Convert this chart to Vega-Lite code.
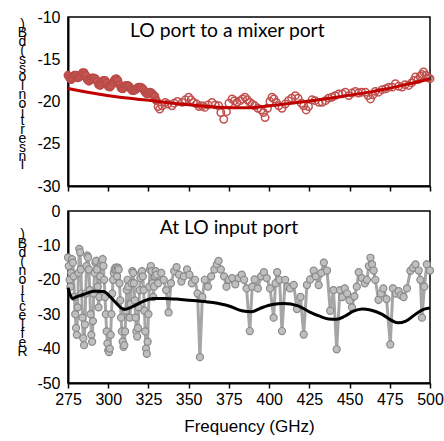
{
  "$schema": "https://vega.github.io/schema/vega-lite/v6.json",
  "padding": {"left": 16, "top": 8, "right": 2, "bottom": 2},
  "spacing": 25,
  "bounds": "flush",
  "config": {
    "view": {"stroke": "black", "strokeWidth": 1.5},
    "axis": {"domainColor": "black", "domainWidth": 2, "labelFont": "Liberation Sans", "labelFontSize": 16, "labelColor": "black", "labelFlush": false, "labelOverlap": false, "grid": false, "tickColor": "black", "tickWidth": 1.5, "titleFont": "Liberation Sans", "titleColor": "black", "titleFontWeight": "normal", "labelExpr": "replace(datum.label, '−', '-')"}
  },
  "datasets": {
    "topDense": [
      {"f":275,"v":-16.9},{"f":276,"v":-17.2},{"f":277,"v":-17.4},{"f":278,"v":-17.2},{"f":279,"v":-16.9},{"f":280,"v":-16.9},{"f":281,"v":-17.2},{"f":282,"v":-17.1},{"f":283,"v":-16.9},{"f":284,"v":-16.6},{"f":285,"v":-16.6},{"f":286,"v":-16.9},{"f":287,"v":-17.4},{"f":288,"v":-17.6},{"f":289,"v":-17.4},{"f":290,"v":-17.2},{"f":291,"v":-17.2},{"f":292,"v":-17.3},{"f":293,"v":-17.6},{"f":294,"v":-18.0},{"f":295,"v":-18.1},{"f":296,"v":-17.8},{"f":297,"v":-17.5},{"f":298,"v":-17.5},{"f":299,"v":-17.8},{"f":300,"v":-18.2},{"f":301,"v":-18.3},{"f":302,"v":-18.1},{"f":303,"v":-17.7},{"f":304,"v":-17.4},{"f":305,"v":-17.3},{"f":306,"v":-17.5},{"f":307,"v":-18.0},{"f":308,"v":-18.4},{"f":309,"v":-18.5},{"f":310,"v":-18.3},{"f":311,"v":-18.1},{"f":312,"v":-18.1},{"f":313,"v":-18.2},{"f":314,"v":-18.5},{"f":315,"v":-18.7},{"f":316,"v":-18.7},{"f":317,"v":-18.6},{"f":318,"v":-18.4},{"f":319,"v":-18.3},{"f":320,"v":-18.3},{"f":321,"v":-18.4},{"f":322,"v":-18.6},{"f":323,"v":-18.9},{"f":324,"v":-19.1},{"f":325,"v":-19.1},{"f":326,"v":-18.9},{"f":327,"v":-19.0},{"f":328,"v":-19.2},{"f":329,"v":-19.4},{"f":330,"v":-19.9}
    ],
    "topSparse": [
      {"f":331,"v":-20.6},{"f":332,"v":-20.9},{"f":333.5,"v":-20.5},{"f":335.4,"v":-20.1},{"f":337,"v":-20.3},{"f":339.6,"v":-20.5},{"f":341,"v":-20.2},{"f":343,"v":-20.0},{"f":346,"v":-20.1},{"f":348,"v":-19.8},{"f":350,"v":-19.5},{"f":351.5,"v":-19.8},{"f":353,"v":-20.1},{"f":355,"v":-20.3},{"f":356.5,"v":-20.6},{"f":358.3,"v":-20.5},{"f":360,"v":-20.7},{"f":362,"v":-20.4},{"f":364.5,"v":-20.1},{"f":366.5,"v":-20.4},{"f":368.7,"v":-20.5},{"f":370,"v":-21.3},{"f":371.8,"v":-22.1},{"f":373.5,"v":-21.2},{"f":375,"v":-20.2},{"f":377,"v":-19.7},{"f":378.5,"v":-19.9},{"f":380,"v":-20.1},{"f":382,"v":-19.9},{"f":383.5,"v":-19.7},{"f":385,"v":-19.5},{"f":386.5,"v":-19.8},{"f":388,"v":-20.1},{"f":389.5,"v":-20.3},{"f":391,"v":-20.5},{"f":393,"v":-20.8},{"f":395,"v":-21.0},{"f":396.5,"v":-21.3},{"f":397.5,"v":-21.9},{"f":399,"v":-20.8},{"f":400.5,"v":-20.0},{"f":401.8,"v":-19.5},{"f":403,"v":-19.7},{"f":404.5,"v":-20.1},{"f":406,"v":-20.5},{"f":408,"v":-20.8},{"f":410,"v":-20.3},{"f":412,"v":-19.9},{"f":414,"v":-19.6},{"f":416.3,"v":-19.3},{"f":418,"v":-19.6},{"f":420,"v":-20.2},{"f":421.5,"v":-20.5},{"f":423,"v":-21.0},{"f":424.5,"v":-20.6},{"f":426.7,"v":-19.8},{"f":428.5,"v":-19.9},{"f":431,"v":-20.1},{"f":433,"v":-20.1},{"f":435,"v":-19.9},{"f":437,"v":-19.6},{"f":439,"v":-19.5},{"f":441,"v":-19.3},{"f":443.3,"v":-19.1},{"f":445.5,"v":-19.1},{"f":447.4,"v":-18.9},{"f":449.5,"v":-19.3},{"f":451.5,"v":-19.0},{"f":453.6,"v":-18.8},{"f":455.5,"v":-19.0},{"f":457.5,"v":-18.9},{"f":459.8,"v":-18.9},{"f":461.5,"v":-19.3},{"f":463,"v":-19.7},{"f":464.5,"v":-19.2},{"f":466,"v":-18.8},{"f":468,"v":-18.9},{"f":470.3,"v":-18.6},{"f":472.5,"v":-18.5},{"f":474.4,"v":-18.3},{"f":476.5,"v":-18.3},{"f":478.5,"v":-17.9},{"f":480.5,"v":-18.2},{"f":482.6,"v":-18.3},{"f":484.5,"v":-18.0},{"f":486.7,"v":-18.1},{"f":488.5,"v":-17.8},{"f":490,"v":-17.5},{"f":491,"v":-17.1},{"f":492.5,"v":-17.4},{"f":494,"v":-17.0},{"f":495,"v":-16.8},{"f":496,"v":-16.5},{"f":497.5,"v":-16.9},{"f":499,"v":-17.2},{"f":500,"v":-17.3}
    ],
    "topLine": [
      {"f":275,"v":-18.45},{"f":290,"v":-19.0},{"f":305,"v":-19.45},{"f":325,"v":-19.85},{"f":345,"v":-20.3},{"f":365,"v":-20.65},{"f":385,"v":-20.75},{"f":405,"v":-20.4},{"f":425,"v":-19.95},{"f":445,"v":-19.4},{"f":465,"v":-18.8},{"f":485,"v":-18.0},{"f":500,"v":-17.3}
    ],
    "botPts": [
      {"f":275,"v":-13.5},{"f":275.5,"v":-16},{"f":276,"v":-20},{"f":276.5,"v":-22},{"f":277,"v":-18},{"f":277.5,"v":-14},{"f":278,"v":-15},{"f":278.5,"v":-19},{"f":279,"v":-25},{"f":279.5,"v":-30},{"f":280,"v":-34},{"f":280.5,"v":-36},{"f":281,"v":-28},{"f":281.5,"v":-18},{"f":282,"v":-11},{"f":282.5,"v":-12},{"f":283,"v":-17},{"f":283.5,"v":-24},{"f":284,"v":-31},{"f":284.5,"v":-37},{"f":285,"v":-39},{"f":285.5,"v":-33},{"f":286,"v":-24},{"f":286.5,"v":-16},{"f":287,"v":-13},{"f":287.5,"v":-13.5},{"f":288,"v":-17},{"f":288.5,"v":-23},{"f":289,"v":-30},{"f":289.5,"v":-36},{"f":290,"v":-38},{"f":290.5,"v":-32},{"f":291,"v":-24},{"f":291.5,"v":-18},{"f":292,"v":-15},{"f":292.5,"v":-14.5},{"f":293,"v":-17},{"f":293.5,"v":-22},{"f":294,"v":-28},{"f":294.5,"v":-25},{"f":295,"v":-19},{"f":295.5,"v":-15.5},{"f":296,"v":-14.5},{"f":296.5,"v":-14},{"f":297,"v":-16},{"f":297.5,"v":-20},{"f":298,"v":-25},{"f":298.5,"v":-30},{"f":299,"v":-35},{"f":299.5,"v":-38.5},{"f":300,"v":-40.5},{"f":300.5,"v":-41},{"f":301,"v":-40},{"f":301.5,"v":-36},{"f":302,"v":-30},{"f":302.5,"v":-24},{"f":303,"v":-20},{"f":303.5,"v":-18},{"f":304,"v":-17},{"f":304.5,"v":-16.5},{"f":305,"v":-17},{"f":305.5,"v":-19},{"f":306,"v":-16.5},{"f":306.5,"v":-17},{"f":307,"v":-21},{"f":307.5,"v":-26},{"f":308,"v":-31},{"f":308.5,"v":-35},{"f":309,"v":-38},{"f":309.5,"v":-39.5},{"f":310,"v":-39},{"f":310.5,"v":-35},{"f":311,"v":-29},{"f":311.5,"v":-23},{"f":312,"v":-20},{"f":312.5,"v":-22},{"f":313,"v":-27},{"f":313.5,"v":-31},{"f":314,"v":-27},{"f":314.5,"v":-21},{"f":315,"v":-17.5},{"f":315.5,"v":-18},{"f":316,"v":-21},{"f":316.5,"v":-26},{"f":317,"v":-31},{"f":317.5,"v":-35},{"f":318,"v":-36.5},{"f":318.5,"v":-34},{"f":319,"v":-28},{"f":319.5,"v":-23},{"f":320,"v":-19.5},{"f":320.5,"v":-18},{"f":321,"v":-17.5},{"f":321.5,"v":-19},{"f":322,"v":-23},{"f":322.5,"v":-29},{"f":323,"v":-35},{"f":323.5,"v":-40},{"f":324,"v":-41.5},{"f":324.5,"v":-38},{"f":325,"v":-30},{"f":325.5,"v":-22},{"f":326,"v":-17},{"f":326.5,"v":-16},{"f":327,"v":-17.5},{"f":327.5,"v":-21},{"f":328,"v":-25},{"f":328.5,"v":-22},{"f":329,"v":-19},{"f":329.5,"v":-17.5},{"f":330,"v":-18.5},
      {"f":331,"v":-21},{"f":333,"v":-18},{"f":334.5,"v":-20},{"f":336,"v":-23},{"f":337.5,"v":-29.5},{"f":339,"v":-21},{"f":341,"v":-17.5},{"f":342.5,"v":-16.3},{"f":344,"v":-18.5},{"f":345.5,"v":-20.5},{"f":347,"v":-19},{"f":349,"v":-17},{"f":350.5,"v":-18.5},{"f":352,"v":-21},{"f":354,"v":-20},{"f":355.5,"v":-24},{"f":357,"v":-42.5},{"f":358.5,"v":-25},{"f":360,"v":-20},{"f":362,"v":-22},{"f":364,"v":-19},{"f":366,"v":-17},{"f":367.5,"v":-15.5},{"f":368.6,"v":-14.5},{"f":370,"v":-17},{"f":372,"v":-19},{"f":373.5,"v":-22},{"f":375,"v":-20},{"f":377,"v":-19.5},{"f":379,"v":-21.3},{"f":381,"v":-19.5},{"f":383,"v":-18.5},{"f":384.5,"v":-20},{"f":386,"v":-22.5},{"f":388,"v":-34.9},{"f":389.5,"v":-22},{"f":391,"v":-19.9},{"f":393,"v":-22.5},{"f":395,"v":-19},{"f":396.8,"v":-17.8},{"f":398.5,"v":-19.5},{"f":400.6,"v":-22.5},{"f":402.8,"v":-31},{"f":404,"v":-21},{"f":405,"v":-17.8},{"f":406.5,"v":-20},{"f":408,"v":-34.9},{"f":410,"v":-20},{"f":411.5,"v":-22},{"f":413,"v":-22.5},{"f":415.3,"v":-21.5},{"f":417.3,"v":-28.5},{"f":419.5,"v":-25},{"f":421.5,"v":-35.9},{"f":423.5,"v":-21.5},{"f":425.5,"v":-19.9},{"f":427.7,"v":-17.3},{"f":429,"v":-19},{"f":430.8,"v":-21.5},{"f":432.5,"v":-18},{"f":434,"v":-15},{"f":436,"v":-17.3},{"f":438,"v":-29},{"f":440,"v":-23},{"f":442,"v":-40.2},{"f":444,"v":-23},{"f":445.5,"v":-25},{"f":447,"v":-22.5},{"f":448.5,"v":-24},{"f":450,"v":-26},{"f":451.5,"v":-28},{"f":453,"v":-24.8},{"f":454.5,"v":-22},{"f":455.7,"v":-17.8},{"f":457.7,"v":-19.5},{"f":459.5,"v":-21},{"f":460.8,"v":-20},{"f":462,"v":-16},{"f":463,"v":-13.6},{"f":464,"v":-15.5},{"f":465,"v":-17.3},{"f":466,"v":-20},{"f":468,"v":-25.8},{"f":469.5,"v":-24},{"f":471,"v":-22.5},{"f":473,"v":-25.6},{"f":475.3,"v":-38.8},{"f":477,"v":-22.5},{"f":478.8,"v":-24},{"f":480.5,"v":-23.3},{"f":482,"v":-24.5},{"f":483.6,"v":-25},{"f":485.7,"v":-22.5},{"f":487.8,"v":-17.4},{"f":489.5,"v":-16.5},{"f":491,"v":-15.5},{"f":493,"v":-17.3},{"f":494,"v":-20},{"f":495,"v":-31},{"f":496.5,"v":-22},{"f":498,"v":-15.5},{"f":500,"v":-17.3}
    ],
    "botLine": [
      {"f":275,"v":-22.3},{"f":276.5,"v":-24.5},{"f":278,"v":-25.4},{"f":280,"v":-25},{"f":285,"v":-24.2},{"f":291,"v":-23.3},{"f":297,"v":-23.4},{"f":301,"v":-24.8},{"f":304,"v":-26.3},{"f":310,"v":-28.6},{"f":316,"v":-27.6},{"f":322,"v":-26.2},{"f":328,"v":-25.4},{"f":335,"v":-25.4},{"f":345,"v":-25.7},{"f":355,"v":-26.1},{"f":365,"v":-26.6},{"f":375,"v":-27.6},{"f":383,"v":-29},{"f":389,"v":-29.3},{"f":395,"v":-28.2},{"f":402,"v":-27.2},{"f":409,"v":-26.9},{"f":418,"v":-27.6},{"f":425,"v":-29.3},{"f":431,"v":-30.5},{"f":437,"v":-31.4},{"f":442,"v":-31.5},{"f":447,"v":-30.6},{"f":452,"v":-29.2},{"f":458,"v":-28.5},{"f":463,"v":-28.8},{"f":470,"v":-30},{"f":475,"v":-31.5},{"f":480,"v":-32.5},{"f":485,"v":-32},{"f":491,"v":-30},{"f":496,"v":-28.6},{"f":500,"v":-28.2}
    ]
  },
  "vconcat": [
    {
      "width": 362,
      "height": 169,
      "encoding": {
        "x": {"field": "f", "type": "quantitative", "scale": {"domain": [275, 500], "nice": false},
          "axis": {"values": [275,300,325,350,375,400,425,450,475,500], "labels": false, "ticks": true, "tickSize": 5, "title": null}},
        "y": {"field": "v", "type": "quantitative", "scale": {"domain": [-30, -10], "nice": false},
          "axis": {"values": [-10,-15,-20,-25,-30], "ticks": false, "labelPadding": 8,
            "title": [")", "B", "d", "(", " ", "s", "s", "o", "l", " ", "n", "o", "i", "t", "r", "e", "s", "n", "I"],
            "titleAngle": 0, "titleAlign": "center", "titleBaseline": "top", "titleX": -46, "titleY": 0, "titleLineHeight": 8.8, "titleFontSize": 14}}
      },
      "layer": [
        {"data": {"name": "topDense"}, "mark": {"type": "point", "shape": "circle", "filled": true, "fill": "#C65854", "stroke": "#B94A47", "strokeWidth": 1.5, "size": 55, "opacity": 1}},
        {"data": {"name": "topSparse"}, "mark": {"type": "point", "shape": "circle", "filled": false, "stroke": "#C0504D", "strokeWidth": 1.5, "size": 55, "opacity": 1}},
        {"data": {"name": "topLine"}, "mark": {"type": "line", "color": "#C00000", "strokeWidth": 3, "interpolate": "monotone"}},
        {"data": {"values": [{"f": 374, "v": -12.4, "t": "LO port to a mixer port"}]},
          "mark": {"type": "text", "font": "Lato", "fontSize": 19.3, "color": "black", "baseline": "alphabetic"},
          "encoding": {"text": {"field": "t"}}}
      ]
    },
    {
      "width": 362,
      "height": 172,
      "encoding": {
        "x": {"field": "f", "type": "quantitative", "scale": {"domain": [275, 500], "nice": false},
          "axis": {"values": [275,300,325,350,375,400,425,450,475,500], "tickSize": 5, "labelPadding": 3, "title": "Frequency (GHz)", "titleFontSize": 17, "titlePadding": 11}},
        "y": {"field": "v", "type": "quantitative", "scale": {"domain": [-50, 0], "nice": false},
          "axis": {"values": [0,-10,-20,-30,-40,-50], "ticks": false, "labelPadding": 8,
            "title": [")", "B", "d", "(", " ", "n", "o", "i", "t", "c", "e", "l", "f", "e", "R"],
            "titleAngle": 0, "titleAlign": "center", "titleBaseline": "top", "titleX": -46, "titleY": 16, "titleLineHeight": 9, "titleFontSize": 14}}
      },
      "layer": [
        {"data": {"name": "botPts"}, "mark": {"type": "line", "color": "#A6A6A6", "strokeWidth": 3}},
        {"data": {"name": "botPts"}, "mark": {"type": "point", "shape": "circle", "filled": true, "fill": "#BFBFBF", "stroke": "#8A8A8A", "strokeWidth": 1.2, "size": 50, "opacity": 1}},
        {"data": {"name": "botLine"}, "mark": {"type": "line", "color": "black", "strokeWidth": 3, "interpolate": "monotone"}},
        {"data": {"values": [{"f": 375, "v": -6.8, "t": "At LO input port"}]},
          "mark": {"type": "text", "font": "Lato", "fontSize": 19.3, "color": "black", "baseline": "alphabetic"},
          "encoding": {"text": {"field": "t"}}}
      ]
    }
  ]
}
